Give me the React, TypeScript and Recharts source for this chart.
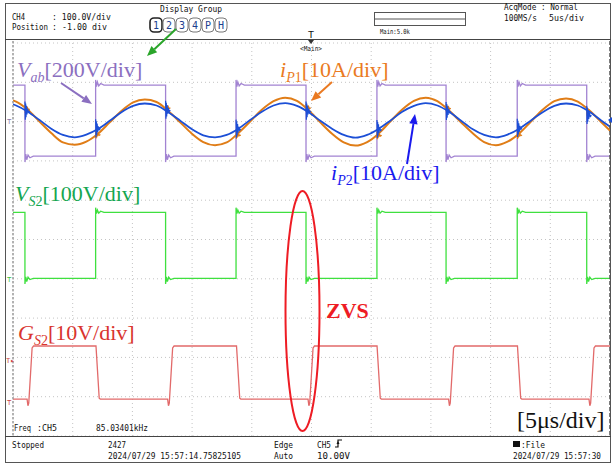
import React from "react";
import { ComposedChart, Line, XAxis, YAxis, ReferenceLine } from "recharts";

const W = 613;
const H = 466;

// screen: 10 div x 5 us horizontally, 10 div vertically (values below are in div)
const gridX = [0, 5, 10, 15, 20, 25, 30, 35, 40, 45, 50];
const gridY = [0, 1, 2, 3, 4, 5, 6, 7, 8, 9, 10];
const T_END = 50;

// Vab and VS2 switch together
const bridgeFallEdges = [1.0, 12.78, 24.54, 36.27, 48.05];
const bridgeRiseEdges = [6.92, 18.68, 30.48, 42.23];
const ringTimes = [0, 0.07, 0.15, 0.26, 0.42, 0.7];

const vabHigh = 8.93;
const vabLow = 7.12;
const vabRingUp = [0.13, -0.04, 0.08, -0.02, 0.04, 0];
const vabRingDown = [-0.15, 0.05, -0.09, 0.03, -0.04, 0];

const vs2High = 5.69;
const vs2Low = 4.01;
const vs2RingUp = [0.12, -0.03, 0.06, -0.02, 0.03, 0];
const vs2RingDown = [-0.14, 0.04, -0.08, 0.03, -0.03, 0];

const gs2RiseEdges = [1.3, 13.07, 24.83, 36.6, 48.36];
const gs2FallEdges = [6.95, 18.72, 30.49, 42.25];
const gs2High = 2.29;
const gs2Low = 0.94;
const gs2Dip = -0.17;

// current samples: first at t=0, then every 0.98 us from 0.26 us
const iP1 = [
  8.54,
  8.51, 8.3, 8.0, 7.71, 7.47, 7.41, 7.49, 7.69, 7.98, 8.27, 8.49, 8.56,
  8.5, 8.27, 7.99, 7.7, 7.48, 7.4, 7.47, 7.71, 8.0, 8.3, 8.52, 8.61,
  8.53, 8.29, 7.98, 7.69, 7.47, 7.39, 7.48, 7.7, 8.01, 8.31, 8.53, 8.61,
  8.52, 8.28, 7.99, 7.71, 7.48, 7.4, 7.49, 7.7, 8.0, 8.3, 8.52, 8.59,
  8.51, 8.28, 7.99, 7.7,
];
const iP2 = [
  8.44,
  8.41, 8.25, 8.04, 7.82, 7.66, 7.6, 7.67, 7.81, 8.02, 8.24, 8.4, 8.46,
  8.41, 8.24, 8.03, 7.81, 7.65, 7.6, 7.66, 7.82, 8.04, 8.25, 8.41, 8.47,
  8.4, 8.24, 8.02, 7.82, 7.66, 7.59, 7.66, 7.82, 8.03, 8.25, 8.4, 8.47,
  8.41, 8.25, 8.03, 7.81, 7.66, 7.6, 7.67, 7.82, 8.03, 8.24, 8.4, 8.46,
  8.41, 8.25, 8.03, 7.82,
];
const curStart = 0.26;
const curStep = 0.98;

// switching noise on the currents
const bridgeEdges = [1.0, 6.92, 12.78, 18.68, 24.54, 30.48, 36.27, 42.23, 48.05];
const iP2EdgeLevels = [8.27, 7.82, 8.29, 7.81, 8.27, 7.8, 8.26, 7.83, 8.16];
const iP1EdgeLevels = [8.32, 7.67, 8.35, 7.66, 8.35, 7.65, 8.34, 7.66, 8.25];
const burstDt = [0, 0.03, 0.06, 0.09, 0.13, 0.17, 0.22, 0.3, 0.4];
const iP2Burst = [0.24, -0.22, 0.19, -0.16, 0.13, -0.09, 0.06, -0.03, 0];
const iP1Burst = [0.1, -0.1, 0.08, -0.07, 0.05, -0.04, 0.03, -0.02, 0];

type P = { t: number; v: number | null };

function bridgeWave(hi: number, lo: number, up: number[], down: number[]): P[] {
  const edges = [
    ...bridgeFallEdges.map((t) => ({ t, up: false })),
    ...bridgeRiseEdges.map((t) => ({ t, up: true })),
  ].sort((a, b) => a.t - b.t);
  const pts: P[] = [{ t: 0, v: hi }];
  let level = hi;
  for (const e of edges) {
    pts.push({ t: e.t, v: e.up ? lo : hi });
    level = e.up ? hi : lo;
    const ring = e.up ? up : down;
    ring.forEach((d, i) => pts.push({ t: e.t + ringTimes[i], v: level + d }));
  }
  pts.push({ t: T_END, v: level });
  return pts;
}

function gateWave(): P[] {
  const edges = [
    ...gs2RiseEdges.map((t) => ({ t, up: true })),
    ...gs2FallEdges.map((t) => ({ t, up: false })),
  ].sort((a, b) => a.t - b.t);
  const pts: P[] = [{ t: 0, v: gs2Low }];
  let level = gs2Low;
  for (const e of edges) {
    if (e.up) {
      pts.push({ t: e.t - 0.12, v: gs2Low });
      pts.push({ t: e.t - 0.05, v: gs2Low + gs2Dip });
      pts.push({ t: e.t + 0.02, v: gs2Low + gs2Dip * 0.6 });
      pts.push({ t: e.t + 0.3, v: gs2High - 0.05 });
      pts.push({ t: e.t + 0.42, v: gs2High });
      level = gs2High;
    } else {
      pts.push({ t: e.t, v: gs2High });
      pts.push({ t: e.t + 0.27, v: gs2Low + 0.02 });
      pts.push({ t: e.t + 0.36, v: gs2Low });
      level = gs2Low;
    }
  }
  pts.push({ t: T_END, v: level });
  return pts;
}

function currentWave(vals: number[]): P[] {
  return vals.map((v, i) => ({ t: i === 0 ? 0 : curStart + (i - 1) * curStep, v }));
}

function burstWave(levels: number[], amp: number[]): P[] {
  const pts: P[] = [];
  bridgeEdges.forEach((te, j) => {
    amp.forEach((a, i) => pts.push({ t: te + burstDt[i], v: levels[j] + a }));
    pts.push({ t: te + 0.45, v: null });
  });
  return pts;
}

const vabData = bridgeWave(vabHigh, vabLow, vabRingUp, vabRingDown);
const vs2Data = bridgeWave(vs2High, vs2Low, vs2RingUp, vs2RingDown);
const gs2Data = gateWave();
const iP1Data = currentWave(iP1);
const iP2Data = currentWave(iP2);
const iP1Noise = burstWave(iP1EdgeLevels, iP1Burst);
const iP2Noise = burstWave(iP2EdgeLevels, iP2Burst);

const scopeFont = "'DejaVu Sans Mono', 'Liberation Mono', monospace";
const serif = "'Liberation Serif', 'DejaVu Serif', serif";

// narrow scope font: squeeze a mono font horizontally to the width seen on screen
function ST({ x, y, w, children, size = 9, fill = "#111" }: any) {
  const s = String(children);
  const sx = w / (s.length * 0.602 * size);
  return (
    <text transform={`translate(${x},${y}) scale(${sx.toFixed(3)},1)`} x={0} y={0} fontFamily={scopeFont} fontSize={size} fill={fill}>
      {s}
    </text>
  );
}

type Sub = { s: string; it: boolean };
function Label({ x, y, main, sub, rest, color }: { x: number; y: number; main: string; sub: Sub[]; rest: string; color: string }) {
  return (
    <text x={x} y={y} fontFamily={serif} fontSize={22} fill={color}>
      <tspan fontStyle="italic">{main}</tspan>
      {sub.map((p, i) => (
        <tspan key={i} fontSize={14} dy={i === 0 ? 5 : 0} fontStyle={p.it ? "italic" : "normal"}>
          {p.s}
        </tspan>
      ))}
      <tspan dy={-5}>{rest}</tspan>
    </text>
  );
}

function Arrow({ x1, y1, x2, y2, color, width = 2, head = 10 }: any) {
  const a = Math.atan2(y2 - y1, x2 - x1);
  const hw = head * 0.42;
  const bx = x2 - head * Math.cos(a);
  const by = y2 - head * Math.sin(a);
  const pts = `${x2},${y2} ${bx + hw * Math.sin(a)},${by - hw * Math.cos(a)} ${bx - hw * Math.sin(a)},${by + hw * Math.cos(a)}`;
  return (
    <g>
      <line x1={x1} y1={y1} x2={bx} y2={by} stroke={color} strokeWidth={width} />
      <polygon points={pts} fill={color} />
    </g>
  );
}

const groupKeys = ["1", "2", "3", "4", "P", "H"];

export default function App() {
  return (
    <div style={{ position: "absolute", left: 0, top: 0, width: W, height: H, background: "#fff" }}>
      <ComposedChart width={W} height={H} margin={{ top: 43, right: 3, bottom: 30, left: 13 }}>
        <XAxis type="number" dataKey="t" domain={[0, T_END]} hide allowDataOverflow />
        <YAxis type="number" domain={[0, 10]} hide allowDataOverflow />
        {gridX.map((v) => (
          <ReferenceLine key={"gx" + v} x={v} stroke="#c4c4c4" strokeDasharray="1 3" />
        ))}
        {gridY.map((v) => (
          <ReferenceLine key={"gy" + v} y={v} stroke="#c4c4c4" strokeDasharray="1 3" />
        ))}
        <Line data={vabData} dataKey="v" type="linear" stroke="#a283d2" strokeWidth={1.3} dot={false} activeDot={false} isAnimationActive={false} />
        <Line data={vs2Data} dataKey="v" type="linear" stroke="#3fe03f" strokeWidth={1.3} dot={false} activeDot={false} isAnimationActive={false} />
        <Line data={gs2Data} dataKey="v" type="linear" stroke="#e26a6a" strokeWidth={1.3} dot={false} activeDot={false} isAnimationActive={false} />
        <Line data={iP1Data} dataKey="v" type="monotone" stroke="#e07d17" strokeWidth={2} dot={false} activeDot={false} isAnimationActive={false} />
        <Line data={iP1Noise} dataKey="v" type="linear" stroke="#e07d17" strokeWidth={1.2} dot={false} activeDot={false} isAnimationActive={false} />
        <Line data={iP2Data} dataKey="v" type="monotone" stroke="#1c4fd6" strokeWidth={1.8} dot={false} activeDot={false} isAnimationActive={false} />
        <Line data={iP2Noise} dataKey="v" type="linear" stroke="#1c4fd6" strokeWidth={1.2} dot={false} activeDot={false} isAnimationActive={false} />
      </ComposedChart>

      <svg width={W} height={H} style={{ position: "absolute", left: 0, top: 0, pointerEvents: "none" }}>
        {/* frame */}
        <rect x={5.5} y={3.5} width={605} height={459} fill="none" stroke="#555" />
        <line x1={5} y1={39.5} x2={611} y2={39.5} stroke="#444" />
        <line x1={5} y1={436.5} x2={611} y2={436.5} stroke="#444" />
        <line x1={13} y1={41} x2={13} y2={436} stroke="#999" strokeWidth={1.5} strokeDasharray="2 2" />
        <line x1={610} y1={41} x2={610} y2={436} stroke="#555" strokeWidth={1.5} strokeDasharray="4 2" />

        {/* header */}
        <ST x={12} y={19.5} w={13}>CH4</ST>
        <ST x={52} y={19.5} w={59}>: 100.0V/div</ST>
        <ST x={12} y={30} w={36}>Position</ST>
        <ST x={52} y={30} w={55}>: -1.00 div</ST>
        <ST x={160} y={12} w={62}>Display Group</ST>
        {groupKeys.map((k, i) => (
          <g key={k}>
            <rect x={150 + i * 13} y={18} width={12} height={14} rx={4} fill="#fff" stroke={i === 0 ? "#222" : "#777"} strokeWidth={i === 0 ? 1.6 : 1} />
            <text x={156 + i * 13} y={29} textAnchor="middle" fontFamily={scopeFont} fontSize={10} fill="#1c3f8f">
              {k}
            </text>
          </g>
        ))}
        <rect x={374.5} y={12.5} width={91} height={13} fill="#fff" stroke="#555" />
        <line x1={374.5} y1={19} x2={465.5} y2={19} stroke="#555" />
        <ST x={380} y={34} w={30} size={7}>Main:5.0k</ST>
        <ST x={504} y={10} w={74}>AcqMode : Normal</ST>
        <ST x={504} y={20.5} w={33}>100MS/s</ST>
        <ST x={549} y={20.5} w={35}>5us/div</ST>
        <ST x={308} y={38} w={6} size={8}>T</ST>
        <polygon points="308,40 314,40 311,44" fill="#333" />
        <ST x={300} y={51} w={22} size={7}>{"<Main>"}</ST>

        {/* channel markers */}
        <text x={7} y={124} fontFamily={scopeFont} fontSize={8} fill="#8a78a8">{"\u22A4"}</text>
        <text x={7} y={282} fontFamily={scopeFont} fontSize={8} fill="#3cbf3c">{"\u22A4"}</text>
        <text x={6} y={363} fontFamily={scopeFont} fontSize={7} fill="#c44">{"T\u25B8"}</text>
        <text x={7} y={405} fontFamily={scopeFont} fontSize={8} fill="#c44">{"\u22A4"}</text>
        <polygon points="612,117 608,120 612,123" fill="#1c4fd6" />

        {/* annotations */}
        <Label x={17} y={77} main="V" sub={[{ s: "ab", it: true }]} rest="[200V/div]" color="#8b6fc0" />
        <Arrow x1={61} y1={83} x2={92} y2={104} color="#8b6fc0" />
        <Label x={280} y={77} main="i" sub={[{ s: "P", it: true }, { s: "1", it: false }]} rest="[10A/div]" color="#ea7a22" />
        <Arrow x1={332} y1={82} x2={311} y2={101} color="#ea7a22" />
        <Label x={331} y={180} main="i" sub={[{ s: "P", it: true }, { s: "2", it: false }]} rest="[10A/div]" color="#1a1aee" />
        <Arrow x1={407} y1={164} x2={415} y2={114} color="#1a1aee" />
        <Label x={15} y={201} main="V" sub={[{ s: "S", it: true }, { s: "2", it: false }]} rest="[100V/div]" color="#14a650" />
        <Label x={18} y={340} main="G" sub={[{ s: "S", it: true }, { s: "2", it: false }]} rest="[10V/div]" color="#d9342e" />
        <Arrow x1={176} y1={29} x2={147} y2={56} color="#2aa52a" />
        <ellipse cx={302.5} cy={311} rx={17} ry={120} fill="none" stroke="#ee1c24" strokeWidth={2} />
        <text x={326} y={318} fontFamily={serif} fontSize={22} fontWeight="bold" fill="#ee1c24">ZVS</text>
        <text x={517} y={428} fontFamily={serif} fontSize={24} fill="#111">[5μs/div]</text>

        {/* footer */}
        <ST x={14} y={431} w={17}>Freq</ST>
        <ST x={37} y={431} w={20}>:CH5</ST>
        <ST x={96} y={431} w={52}>85.03401kHz</ST>
        <ST x={12} y={448} w={32}>Stopped</ST>
        <ST x={108} y={448} w={18}>2427</ST>
        <ST x={108} y={459} w={133}>2024/07/29 15:57:14.75825105</ST>
        <ST x={274} y={448} w={19}>Edge</ST>
        <ST x={274} y={459} w={19}>Auto</ST>
        <ST x={317} y={448} w={14}>CH5</ST>
        <path d="M335,447 h3 v-7 h4" fill="none" stroke="#111" strokeWidth={1.2} />
        <polygon points="336.5,444 339.5,444 338,441" fill="#111" />
        <ST x={317} y={459} w={33}>10.00V</ST>
        <rect x={513} y={441} width={7} height={6} fill="#111" />
        <ST x={521} y={448} w={24}>:File</ST>
        <ST x={513} y={459} w={88}>2024/07/29 15:57:30</ST>
      </svg>
    </div>
  );
}
